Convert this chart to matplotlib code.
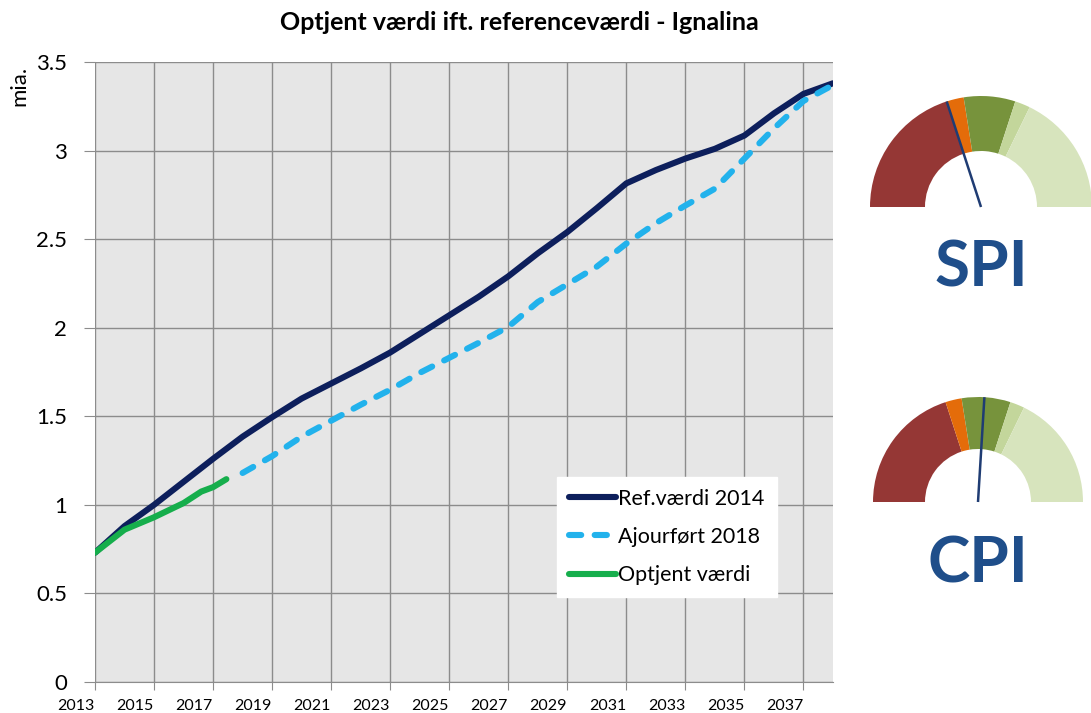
import numpy as np
import matplotlib.pyplot as plt
from matplotlib.patches import Wedge
from matplotlib.ticker import FuncFormatter
from matplotlib.transforms import ScaledTranslation

# --- data ---
years = list(range(2013, 2039))
ref_2014 = [0.73, 0.88, 1.00, 1.13, 1.26, 1.385, 1.495, 1.60, 1.685, 1.77, 1.86, 1.965, 2.07,
            2.175, 2.29, 2.42, 2.54, 2.675, 2.815, 2.89, 2.955, 3.01, 3.085, 3.21, 3.32, 3.38]

ajour_years = list(range(2018, 2039))
ajour_2018 = [1.18, 1.275, 1.385, 1.475, 1.565, 1.65, 1.745, 1.83, 1.915, 2.005, 2.145,
              2.245, 2.345, 2.475, 2.59, 2.69, 2.785, 2.955, 3.125, 3.28, 3.37]

earned_x = [2013, 2014, 2015, 2016, 2016.6, 2017, 2017.45]
earned = [0.73, 0.86, 0.93, 1.01, 1.075, 1.10, 1.145]

labels = ["Ref.værdi 2014", "Ajourført 2018", "Optjent værdi"]
xticks = list(range(2013, 2038, 2))
yticks = [0, 0.5, 1, 1.5, 2, 2.5, 3, 3.5]

# gauges: segment borders in degrees (180 = left, 0 = right) and needle angles
gauge_bounds = [180, 108, 99, 72, 64, 0]
gauge_colors = ['#953735', '#E46C0A', '#77933C', '#C3D69B', '#D7E4BD']
spi_needle = 108
cpi_needle = 86.5

plt.rcParams['font.family'] = ['Lato', 'DejaVu Sans']

fig = plt.figure(figsize=(10.91, 7.13), dpi=100)
ax = fig.add_axes([95 / 1091, 31 / 713, 738 / 1091, 620 / 713])
ax.set_facecolor('#E6E6E6')

l1, = ax.plot(years, ref_2014, color='#0D1F5C', lw=4.4, solid_capstyle='round', zorder=3)
l2, = ax.plot(ajour_years, ajour_2018, color='#22B2EC', lw=4.4, dashes=(2, 2.2),
              dash_capstyle='round', zorder=3)
l3, = ax.plot(earned_x, earned, color='#16AE4C', lw=4.4, solid_capstyle='round', zorder=4)

ax.set_xlim(2013, 2038)
ax.set_ylim(0, 3.5)
ax.set_xticks(xticks)
ax.set_yticks(yticks)
ax.yaxis.set_major_formatter(FuncFormatter(lambda v, p: f"{v:g}"))
ax.grid(True, color='#8C8C8C', lw=1)
ax.set_axisbelow(True)
for s in ['top', 'right', 'left']:
    ax.spines[s].set_visible(False)
ax.spines['bottom'].set_color('#8C8C8C')
ax.tick_params(axis='y', labelsize=16, length=8, color='#8C8C8C', pad=12)
ax.tick_params(axis='x', labelsize=11.5, length=6, color='#8C8C8C', pad=6)

# year labels sit a bit left of their tick marks, as in the original
shift = ScaledTranslation(-19 / 100, 0, fig.dpi_scale_trans)
for lab in ax.get_xticklabels():
    lab.set_transform(lab.get_transform() + shift)

fig.text(519 / 1091, 1 - 22 / 713, "Optjent værdi ift. referenceværdi - Ignalina",
         fontsize=18, fontweight='bold', ha='center', va='center')
fig.text(19 / 1091, 1 - 86 / 713, "mia.", rotation=90, fontsize=16,
         ha='center', va='center')

leg = ax.legend([l1, l2, l3], labels, loc='lower left',
                bbox_to_anchor=(0.626, 0.137, 0.312, 0.205), fontsize=15.5,
                frameon=True, fancybox=False, framealpha=1, edgecolor='white',
                handlelength=2.2, handletextpad=0.1, labelspacing=0.85,
                borderaxespad=0, borderpad=0.55)

# --- gauges ---
gax = fig.add_axes([0, 0, 1, 1])
gax.set_xlim(0, 1091)
gax.set_ylim(0, 713)
gax.axis('off')


def draw_gauge(cx, cy, r_out, r_in, needle, name, ty):
    for i, c in enumerate(gauge_colors):
        gax.add_patch(Wedge((cx, cy), r_out, gauge_bounds[i + 1], gauge_bounds[i],
                            width=r_out - r_in, facecolor=c, edgecolor='none'))
    a = np.deg2rad(needle)
    gax.plot([cx, cx + r_out * np.cos(a)], [cy, cy + r_out * np.sin(a)],
             color='#1F3C73', lw=1.8, solid_capstyle='butt')
    gax.text(cx, ty, name, fontsize=46, fontweight='bold', color='#1F4E8A',
             ha='center', va='center')


draw_gauge(981, 713 - 207, 111, 56, spi_needle, "SPI", 713 - 268)
draw_gauge(978, 713 - 502, 105, 53, cpi_needle, "CPI", 713 - 564)

fig.savefig("out.png", dpi=100)
